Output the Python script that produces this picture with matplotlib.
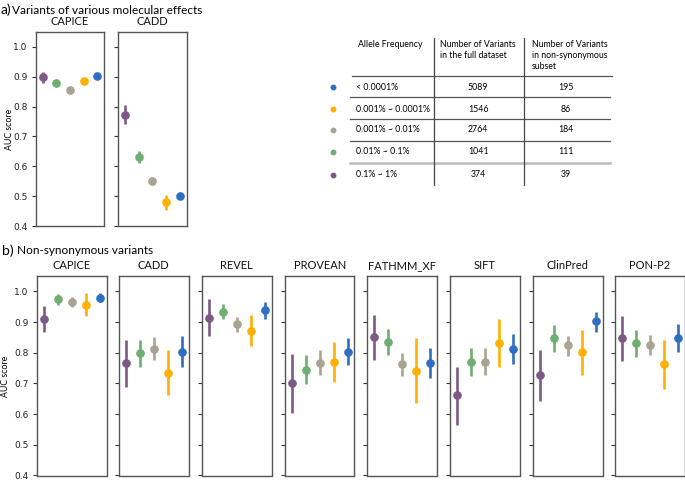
import matplotlib
matplotlib.use("Agg")
import matplotlib.pyplot as plt
from matplotlib.lines import Line2D

# ---------------- data ----------------
freq_labels = ["0.1% ~ 1%", "0.01% ~ 0.1%", "0.001% ~ 0.01%", "0.001% ~ 0.0001%", "< 0.0001%"]
colors = ["#7d5a86", "#6fae70", "#a9a392", "#ffb000", "#2f6fc2"]

# panel a: all variants
tools_a = ["CAPICE", "CADD"]
auc_a = {
    "CAPICE": [0.898, 0.878, 0.857, 0.885, 0.902],
    "CADD":   [0.773, 0.630, 0.552, 0.480, 0.502],
}
lo_a = {
    "CAPICE": [0.880, 0.870, 0.850, 0.875, 0.895],
    "CADD":   [0.742, 0.610, 0.540, 0.455, 0.490],
}
hi_a = {
    "CAPICE": [0.915, 0.886, 0.865, 0.895, 0.910],
    "CADD":   [0.805, 0.650, 0.565, 0.505, 0.515],
}

# panel b: non-synonymous variants
tools_b = ["CAPICE", "CADD", "REVEL", "PROVEAN", "FATHMM_XF", "SIFT", "ClinPred", "PON-P2"]
auc_b = {
    "CAPICE":    [0.911, 0.974, 0.965, 0.957, 0.978],
    "CADD":      [0.765, 0.798, 0.813, 0.735, 0.803],
    "REVEL":     [0.912, 0.934, 0.894, 0.872, 0.938],
    "PROVEAN":   [0.700, 0.745, 0.768, 0.771, 0.803],
    "FATHMM_XF": [0.850, 0.835, 0.762, 0.741, 0.768],
    "SIFT":      [0.661, 0.771, 0.771, 0.832, 0.811],
    "ClinPred":  [0.728, 0.847, 0.824, 0.802, 0.902],
    "PON-P2":    [0.849, 0.831, 0.826, 0.764, 0.849],
}
lo_b = {
    "CAPICE":    [0.867, 0.957, 0.950, 0.919, 0.965],
    "CADD":      [0.689, 0.752, 0.775, 0.663, 0.754],
    "REVEL":     [0.853, 0.909, 0.868, 0.821, 0.911],
    "PROVEAN":   [0.605, 0.698, 0.728, 0.705, 0.760],
    "FATHMM_XF": [0.775, 0.793, 0.724, 0.637, 0.717],
    "SIFT":      [0.566, 0.725, 0.727, 0.755, 0.762],
    "ClinPred":  [0.644, 0.802, 0.788, 0.729, 0.867],
    "PON-P2":    [0.773, 0.786, 0.793, 0.682, 0.801],
}
hi_b = {
    "CAPICE":    [0.953, 0.991, 0.980, 0.995, 0.993],
    "CADD":      [0.840, 0.843, 0.852, 0.810, 0.853],
    "REVEL":     [0.974, 0.959, 0.918, 0.924, 0.964],
    "PROVEAN":   [0.795, 0.793, 0.808, 0.836, 0.847],
    "FATHMM_XF": [0.922, 0.876, 0.800, 0.847, 0.816],
    "SIFT":      [0.754, 0.816, 0.814, 0.910, 0.862],
    "ClinPred":  [0.809, 0.889, 0.856, 0.875, 0.932],
    "PON-P2":    [0.921, 0.874, 0.857, 0.843, 0.892],
}

# table
table_header = ["Allele Frequency", "Number of Variants\nin the full dataset",
                "Number of Variants\nin non-synonymous\nsubset"]
table_freq = ["< 0.0001%", "0.001% ~ 0.0001%", "0.001% ~ 0.01%", "0.01% ~ 0.1%", "0.1% ~ 1%"]
table_colors = ["#2f6fc2", "#ffb000", "#a9a392", "#6fae70", "#7d5a86"]
n_full = [5089, 1546, 2764, 1041, 374]
n_nonsyn = [195, 86, 184, 111, 39]
yticks = [0.4, 0.5, 0.6, 0.7, 0.8, 0.9, 1.0]

# ---------------- figure ----------------
W, H = 685, 480
fig = plt.figure(figsize=(W / 100, H / 100), dpi=100)
TFONT = "Lato"

def fx(x):
    return x / W

def fy(y):
    return 1 - y / H

def px_axes(x0, y0, x1, y1):
    return fig.add_axes([x0 / W, 1 - y1 / H, (x1 - x0) / W, (y1 - y0) / H])

def draw_panel(ax, name, vals, lo, hi, first):
    for i in range(len(vals)):
        ax.plot([i, i], [lo[i], hi[i]], color=colors[i], lw=1.9, solid_capstyle="butt", zorder=2)
        ax.plot(i, vals[i], "o", color=colors[i], ms=5.2, zorder=3)
    ax.set_xlim(-0.5, 4.5)
    ax.set_ylim(0.4, 1.05)
    ax.set_xticks([])
    ax.set_yticks(yticks)
    ax.tick_params(axis="y", direction="out", length=3, width=0.8, labelsize=6.5,
                   colors="#333333", labelcolor="#222222", pad=3)
    if not first:
        ax.set_yticklabels([])
    for s in ax.spines.values():
        s.set_color("#555555")
        s.set_linewidth(1.0)
    ax.set_title(name, fontsize=8, family=TFONT, pad=5, color="#111111")

# panel a
pos_a = [(36, 32, 104, 226), (118, 32, 187, 226)]
for k, t in enumerate(tools_a):
    ax = px_axes(*pos_a[k])
    draw_panel(ax, t, auc_a[t], lo_a[t], hi_a[t], k == 0)
fig.text(fx(10), fy(129), "AUC score", fontsize=6.3, family=TFONT, rotation=90,
         va="center", ha="center")

# panel b
lefts_b = [37, 119, 202, 285, 367, 450, 533, 615]
for k, t in enumerate(tools_b):
    ax = px_axes(lefts_b[k], 276, lefts_b[k] + 69.5, 475.5)
    draw_panel(ax, t, auc_b[t], lo_b[t], hi_b[t], k == 0)
fig.text(fx(6), fy(376), "AUC score", fontsize=6.3, family=TFONT, rotation=90,
         va="center", ha="center")

# section titles
fig.text(1 / W, 1 - 10 / H, "a)", fontsize=10, family=TFONT, va="center", ha="left")
fig.text(12 / W, 1 - 10 / H, "Variants of various molecular effects", fontsize=8.5,
         family=TFONT, va="center", ha="left")
fig.text(2 / W, 1 - 251 / H, "b)", fontsize=10, family=TFONT, va="center", ha="left")
fig.text(17 / W, 1 - 251 / H, "Non-synonymous variants", fontsize=8.5,
         family=TFONT, va="center", ha="left")

# table
tfs = 6.3
fig.text(fx(358), fy(40), table_header[0], fontsize=tfs, family=TFONT, va="top", ha="left")
fig.text(fx(440), fy(40), table_header[1], fontsize=tfs, family=TFONT, va="top", ha="left",
         linespacing=1.3)
fig.text(fx(532), fy(40), table_header[2], fontsize=tfs, family=TFONT, va="top", ha="left",
         linespacing=1.3)

row_y = [87, 109, 130, 152, 175]
for r in range(5):
    fig.add_artist(Line2D([fx(333)], [fy(row_y[r])], marker="o", ms=3.2,
                          color=table_colors[r], transform=fig.transFigure))
    fig.text(fx(356), fy(row_y[r]), table_freq[r], fontsize=tfs, family=TFONT, va="center", ha="left")
    fig.text(fx(478), fy(row_y[r]), str(n_full[r]), fontsize=tfs, family=TFONT, va="center", ha="center")
    fig.text(fx(566), fy(row_y[r]), str(n_nonsyn[r]), fontsize=tfs, family=TFONT, va="center", ha="center")

hlines = [(75.5, 352, 612, "#555555", 0.9), (97, 350, 610, "#555555", 0.9),
          (119, 350, 610, "#555555", 0.9), (141, 350, 610, "#555555", 0.9),
          (163, 350, 610, "#bbbbbb", 1.8)]
for y, x0, x1, c, lw in hlines:
    fig.add_artist(Line2D([fx(x0), fx(x1)], [fy(y), fy(y)], color=c, lw=lw,
                          transform=fig.transFigure))
for x in (433.5, 523.5):
    fig.add_artist(Line2D([fx(x), fx(x)], [fy(38), fy(185)], color="#444444", lw=0.9,
                          transform=fig.transFigure))

fig.savefig("out.png", dpi=100)
